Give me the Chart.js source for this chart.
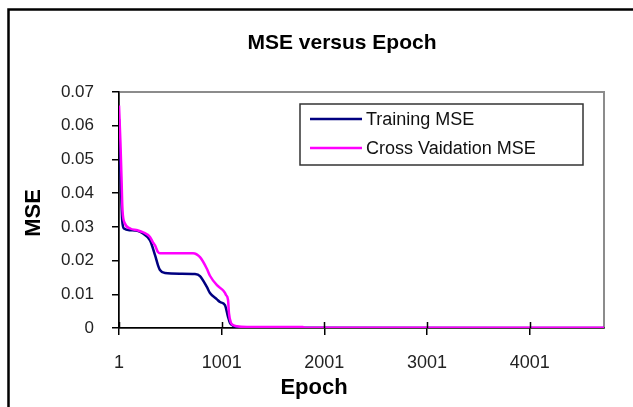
<!DOCTYPE html>
<html>
<head>
<meta charset="utf-8">
<script src="https://cdn.jsdelivr.net/npm/chart.js@4.4.0/dist/chart.umd.min.js"></script>
<style>
html, body { margin: 0; padding: 0; background: #fff; overflow: hidden; }
</style>
</head>
<body>
<canvas id="myChart" width="633" height="407"></canvas>
<script>
const chartTitle = "MSE versus Epoch";
const xTitle = "Epoch";
const yTitle = "MSE";
const seriesNames = ["Training MSE", "Cross Vaidation MSE"];

const epochTicks = [1, 1001, 2001, 3001, 4001];
const mseTicks = [0, 0.01, 0.02, 0.03, 0.04, 0.05, 0.06, 0.07];
const lastEpoch = 4725;

const trainEpochs = [1, 12, 22, 32, 50, 110, 180, 235, 303, 352, 381, 400, 449, 600, 741, 790, 858, 887, 955, 985, 1033, 1063, 1082, 1102, 1130, 1209, 1500, 4725];
const trainMSE = [0.062, 0.050, 0.040, 0.032, 0.0295, 0.029, 0.0288, 0.028, 0.026, 0.0216, 0.0186, 0.0172, 0.0163, 0.0161, 0.0160, 0.0154, 0.0121, 0.0104, 0.0085, 0.0077, 0.0068, 0.0033, 0.0015, 0.0009, 0.0004, 0.0002, 0.0001, 0.0];

const cvEpochs = [1, 15, 25, 35, 59, 110, 180, 235, 303, 330, 352, 381, 400, 600, 722, 790, 858, 887, 955, 1014, 1033, 1043, 1063, 1072, 1092, 1111, 1150, 1248, 1500, 1793, 1800, 4725];
const cvMSE = [0.066, 0.055, 0.045, 0.035, 0.031, 0.0295, 0.029, 0.0284, 0.027, 0.0255, 0.0245, 0.0225, 0.0222, 0.0222, 0.0222, 0.021, 0.0175, 0.0155, 0.0127, 0.0112, 0.0104, 0.0098, 0.0083, 0.0044, 0.0015, 0.0009, 0.0005, 0.0003, 0.0003, 0.0003, 0.0001, 0.0001];

const toPoints = (xs, ys) => xs.map((x, i) => ({ x: x, y: ys[i] }));
const fontFamily = '"Liberation Sans", Arial, sans-serif';

// plot frame, crossing ticks, legend, titles, outer border
const excelLook = {
    id: "excelLook",
    beforeDraw(chart) {
        const { ctx, chartArea: a } = chart;
        ctx.save();
        ctx.fillStyle = "#fff";
        ctx.fillRect(0, 0, chart.width, chart.height);
        ctx.strokeStyle = "#8c8c8c";
        ctx.lineWidth = 2;
        ctx.strokeRect(a.left, a.top, a.right - a.left, a.bottom - a.top);
        ctx.restore();
    },
    afterDraw(chart) {
        const { ctx, chartArea: a } = chart;
        const xs = chart.scales.x;
        ctx.save();

        // inner half of x tick marks
        ctx.strokeStyle = "#000";
        ctx.lineWidth = 1.5;
        epochTicks.forEach((v) => {
            const px = Math.round(xs.getPixelForValue(v)) + 0.5;
            ctx.beginPath();
            ctx.moveTo(px, a.bottom - 6);
            ctx.lineTo(px, a.bottom);
            ctx.stroke();
        });

        // legend
        ctx.strokeStyle = "#333";
        ctx.lineWidth = 1.5;
        ctx.strokeRect(300, 104, 283, 61);
        ctx.font = "18px " + fontFamily;
        ctx.textBaseline = "middle";
        ctx.textAlign = "left";
        chart.data.datasets.forEach((ds, i) => {
            const y = 119 + i * 29;
            ctx.strokeStyle = ds.borderColor;
            ctx.lineWidth = 2.5;
            ctx.beginPath();
            ctx.moveTo(310, y);
            ctx.lineTo(362, y);
            ctx.stroke();
            ctx.fillStyle = "#111";
            ctx.fillText(ds.label, 366, y + 1);
        });

        // titles
        ctx.fillStyle = "#000";
        ctx.textAlign = "center";
        ctx.font = "bold 21px " + fontFamily;
        ctx.fillText(chartTitle, 342, 43);
        ctx.font = "bold 22px " + fontFamily;
        ctx.fillText(xTitle, 314, 388);
        ctx.translate(34, 213);
        ctx.rotate(-Math.PI / 2);
        ctx.fillText(yTitle, 0, 0);
        ctx.setTransform(1, 0, 0, 1, 0, 0);

        // outer chart border
        ctx.strokeStyle = "#000";
        ctx.lineWidth = 2.5;
        ctx.strokeRect(8.5, 9.5, 700, 500);
        ctx.restore();
    }
};

const ctx = document.getElementById("myChart");

new Chart(ctx, {
    type: "line",
    data: {
        datasets: [
            {
                label: seriesNames[0],
                data: toPoints(trainEpochs, trainMSE),
                borderColor: "#000080",
                borderWidth: 2.5,
                pointRadius: 0,
                cubicInterpolationMode: "monotone",
                order: 1,
            },
            {
                label: seriesNames[1],
                data: toPoints(cvEpochs, cvMSE),
                borderColor: "#ff00ff",
                borderWidth: 2.5,
                pointRadius: 0,
                cubicInterpolationMode: "monotone",
                order: 0,
            },
        ],
    },
    options: {
        responsive: false,
        animation: false,
        layout: { padding: { left: 0, right: 29, top: 92, bottom: 0 } },
        plugins: {
            legend: { display: false },
            tooltip: { enabled: false },
        },
        scales: {
            x: {
                type: "linear",
                min: 1,
                max: lastEpoch,
                afterBuildTicks: (s) => { s.ticks = epochTicks.map((v) => ({ value: v })); },
                afterFit: (s) => { s.height = 79; },
                grid: { drawOnChartArea: false, drawTicks: true, tickLength: 7, color: "#000", lineWidth: 1.5 },
                border: { color: "#000", width: 1.5 },
                ticks: {
                    font: { family: fontFamily, size: 18 },
                    color: "#222",
                    padding: 17,
                    maxRotation: 0,
                    autoSkip: false,
                    callback: (v) => String(v),
                },
            },
            y: {
                min: 0,
                max: 0.07,
                afterBuildTicks: (s) => { s.ticks = mseTicks.map((v) => ({ value: v })); },
                afterFit: (s) => { s.width = 119; },
                grid: { drawOnChartArea: false, drawTicks: true, tickLength: 7, color: "#000", lineWidth: 1.5 },
                border: { color: "#000", width: 1.5 },
                ticks: {
                    font: { family: fontFamily, size: 17 },
                    color: "#222",
                    padding: 18,
                    callback: (v) => String(v),
                },
            },
        },
    },
    plugins: [excelLook],
});
</script>
</body>
</html>
